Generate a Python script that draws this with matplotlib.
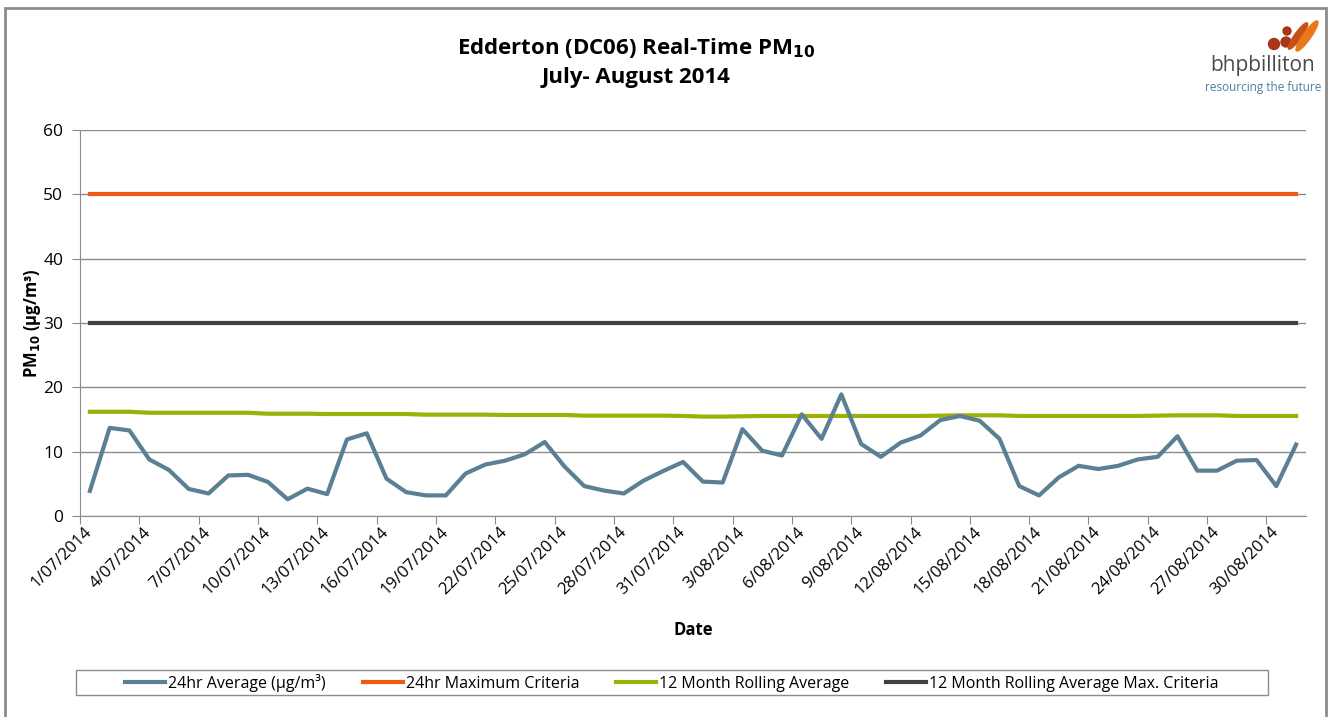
import numpy as np
import pandas as pd
import matplotlib
matplotlib.use("Agg")
from matplotlib import pyplot as plt
from matplotlib.patches import Rectangle, Ellipse

plt.rcParams['font.family'] = ['Open Sans', 'DejaVu Sans']

dates = pd.date_range('2014-07-01', '2014-08-31', freq='D')
date_labels = [f"{d.day}/{d.month:02d}/{d.year}" for d in dates]

avg_24hr = [3.9, 13.7, 13.3, 8.8, 7.15, 4.2, 3.5, 6.3, 6.4, 5.3,
            2.6, 4.25, 3.4, 11.9, 12.85, 5.8, 3.7, 3.2, 3.2, 6.6,
            8.0, 8.6, 9.6, 11.5, 7.7, 4.65, 3.95, 3.5, 5.5, 7.0,
            8.4, 5.35, 5.2, 13.5, 10.15, 9.4, 15.8, 12.0, 18.9, 11.2,
            9.2, 11.4, 12.5, 14.9, 15.55, 14.8, 12.0, 4.65, 3.2, 6.0,
            7.8, 7.3, 7.8, 8.8, 9.2, 12.4, 7.05, 7.05, 8.6, 8.7,
            4.65, 11.1]

rolling_12m = [16.2, 16.2, 16.2, 16.05, 16.05, 16.05, 16.05, 16.05, 16.05, 15.9,
               15.9, 15.9, 15.85, 15.85, 15.85, 15.85, 15.85, 15.75, 15.75, 15.75,
               15.75, 15.7, 15.7, 15.7, 15.7, 15.6, 15.6, 15.6, 15.6, 15.6,
               15.55, 15.45, 15.45, 15.5, 15.55, 15.55, 15.55, 15.55, 15.55, 15.55,
               15.55, 15.55, 15.55, 15.6, 15.65, 15.65, 15.65, 15.55, 15.55, 15.55,
               15.55, 15.55, 15.55, 15.55, 15.6, 15.65, 15.65, 15.65, 15.55, 15.55,
               15.55, 15.55]

max_24hr = 50
max_rolling = 30

x = np.arange(len(dates))

fig = plt.figure(figsize=(13.3, 7.17), dpi=100)
ax = fig.add_axes([80/1330, 1-516/717, 1226/1330, 386/717])

ax.plot(x, avg_24hr, color='#5B7F93', lw=3, label='24hr Average (µg/m³)', zorder=5)
ax.plot(x, [max_24hr]*len(x), color='#EE5A12', lw=3, label='24hr Maximum Criteria', zorder=4)
ax.plot(x, rolling_12m, color='#9BB008', lw=3, label='12 Month Rolling Average', zorder=4)
ax.plot(x, [max_rolling]*len(x), color='#404040', lw=3,
        label='12 Month Rolling Average Max. Criteria', zorder=4)

ax.set_xlim(-0.5, len(x) - 0.5)
ax.set_ylim(0, 60)
ax.set_yticks(range(0, 61, 10))
ax.grid(axis='y', color='#8C8C8C', lw=1)
ax.set_axisbelow(True)

# tick marks between categories, labels on the categories
ax.set_xticks(np.arange(-0.5, len(x), 3))
ax.set_xticklabels([])
ax.set_xticks(x[::3], minor=True)
ax.set_xticklabels(date_labels[::3], minor=True, rotation=45, ha='right',
                   va='center', rotation_mode='anchor', fontsize=12)
ax.tick_params(axis='x', which='minor', length=0, pad=10)
ax.tick_params(axis='x', which='major', length=6, color='#8C8C8C')
ax.tick_params(axis='y', length=6, color='#8C8C8C', labelsize=12.5, pad=6)

for s in ['top', 'right']:
    ax.spines[s].set_visible(False)
for s in ['left', 'bottom']:
    ax.spines[s].set_color('#8C8C8C')

ax.set_xlabel('Date', fontsize=12, fontweight='bold', labelpad=16)
ax.set_ylabel('PM$_{\\mathbf{10}}$ (µg/m³)', fontsize=12, fontweight='bold', labelpad=0)

fig.text(636/1330, 1-48/717, 'Edderton (DC06) Real-Time PM$_{\\mathbf{10}}$',
         ha='center', va='center', fontsize=16, fontweight='bold')
fig.text(636/1330, 1-78/717, 'July- August 2014',
         ha='center', va='center', fontsize=16, fontweight='bold')

# outer chart border
fig.patches.append(Rectangle((5.5/1330, -0.05), 1320/1330, 1.05 - 7.5/717,
                             transform=fig.transFigure, fill=False,
                             edgecolor='#8C8C8C', lw=2))

# logo
fig.text(1263/1330, 1-66/717, 'bhpbilliton', ha='center', va='center',
         fontsize=15, color='#4A4A4A')
fig.text(1263/1330, 1-88/717, 'resourcing the future', ha='center', va='center',
         fontsize=8.5, color='#4A7FA0')
for cx, cy, r in [(1274, 44, 5.5), (1286, 42, 5), (1287, 31, 4)]:
    fig.patches.append(Ellipse((cx/1330, 1-cy/717), 2*r/1330, 2*r/717,
                               transform=fig.transFigure, color='#A8361A'))
fig.patches.append(Ellipse((1298/1330, 1-36/717), 8/1330, 28/717, angle=-20,
                           transform=fig.transFigure, color='#C8501A'))
fig.patches.append(Ellipse((1307/1330, 1-36/717), 9/1330, 32/717, angle=-20,
                           transform=fig.transFigure, color='#E8781A'))

# legend box drawn separately so its padding matches
fig.patches.append(Rectangle((76/1330, 1-695/717), 1192/1330, 25/717,
                             transform=fig.transFigure, fill=False,
                             edgecolor='#8C8C8C', lw=1))
leg = fig.legend(loc='center', bbox_to_anchor=(672/1330, 1-683/717), ncol=4,
                 fontsize=11.5, frameon=False,
                 handlelength=2.5, handletextpad=0.2, columnspacing=2.3)

fig.savefig('out.png', dpi=100)
